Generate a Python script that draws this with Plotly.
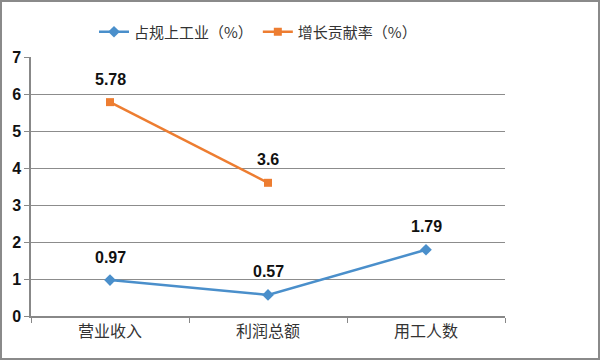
import plotly.graph_objects as go

categories = ["营业收入", "利润总额", "用工人数"]
share_vals = [0.97, 0.57, 1.79]
contrib_vals = [5.78, 3.6, None]
contrib_labels = ["5.78", "3.6", ""]
share_labels = ["0.97", "0.57", "1.79"]
series_names = ["占规上工业（%）", "增长贡献率（%）"]

W, H = 600, 360
L, R, T, B = 31, 95, 57, 44
pw, ph = W - L - R, H - T - B

BLUE = "#4A8FCB"
ORANGE = "#ED7D31"

fig = go.Figure()
fig.add_trace(go.Scatter(
    x=categories, y=share_vals, mode="lines+markers", name=series_names[0],
    line=dict(color=BLUE, width=2.5),
    marker=dict(symbol="diamond", size=9, color=BLUE),
))
fig.add_trace(go.Scatter(
    x=categories, y=contrib_vals, mode="lines+markers", name=series_names[1],
    line=dict(color=ORANGE, width=2.5),
    marker=dict(symbol="square", size=8, color=ORANGE),
))

for xs, ys, labels in [(categories, share_vals, share_labels),
                       (categories, contrib_vals, contrib_labels)]:
    for x, y, t in zip(xs, ys, labels):
        if y is None or not t:
            continue
        fig.add_annotation(x=x, y=y, text="<b>" + t + "</b>", showarrow=False,
                           yshift=23, xanchor="center", yanchor="middle",
                           font=dict(family="Liberation Sans, Arial", size=16, color="#111"))

def px_x(p):
    return (p - L) / pw

def px_y(p):
    return 1 - (p - T) / ph

fig.add_shape(type="rect", xref="paper", yref="paper",
              x0=px_x(1), x1=px_x(599), y0=px_y(359), y1=px_y(1),
              line=dict(color="#8a8a8a", width=2), fillcolor="rgba(0,0,0,0)", layer="above")

fig.update_layout(
    width=W, height=H,
    margin=dict(l=L, r=R, t=T, b=B),
    paper_bgcolor="white", plot_bgcolor="white",
    showlegend=True,
    legend=dict(orientation="h", x=px_x(258), xanchor="center", y=px_y(32), yanchor="middle",
                font=dict(family="Noto Sans CJK SC", size=15, color="#333"),
                itemwidth=30, tracegroupgap=0),
    xaxis=dict(type="category", range=[-0.5, 2.5], showgrid=False,
               showline=True, linecolor="#888", linewidth=1.5,
               ticks="outside", tickson="boundaries", ticklen=5, tickcolor="#888",
               tickfont=dict(family="Noto Sans CJK SC", size=16, color="#333")),
    yaxis=dict(range=[0, 7], dtick=1, showgrid=True, gridcolor="#8c8c8c", gridwidth=1.2,
               showline=True, linecolor="#888", linewidth=1.5,
               ticks="outside", ticklen=5, tickcolor="#888", zeroline=False,
               tickprefix="<b>", ticksuffix="</b>",
               tickfont=dict(family="Liberation Sans, Arial", size=16, color="#111")),
)
fig.write_html("out.html", config={"displayModeBar": False},
               post_script="document.body.style.margin='0';document.body.style.overflow='hidden';")
